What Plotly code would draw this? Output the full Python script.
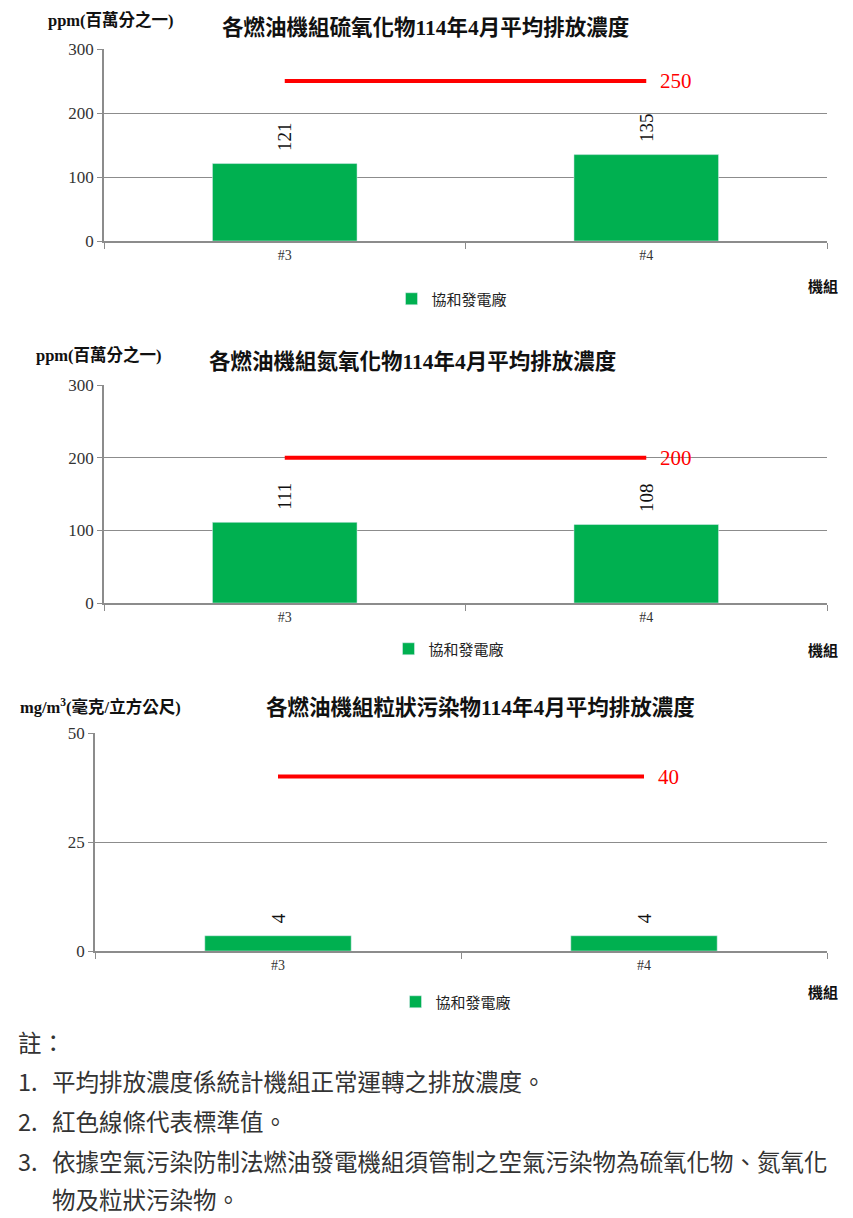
import plotly.graph_objects as go

units = ["#3", "#4"]
so2 = [121, 135]
nox = [111, 108]
pm = [3.5, 3.5]
limits = [250, 200, 40]

titles = ["各燃油機組硫氧化物114年4月平均排放濃度",
          "各燃油機組氮氧化物114年4月平均排放濃度",
          "各燃油機組粒狀污染物114年4月平均排放濃度"]
unit_labels = ["ppm(百萬分之一)", "ppm(百萬分之一)", "mg/m<sup>3</sup>(毫克/立方公尺)"]
plant = "協和發電廠"
note_head = "註："
note_nums = ["1.", "2.", "3.", ""]
note_lines = ["平均排放濃度係統計機組正常運轉之排放濃度。",
              "紅色線條代表標準值。",
              "依據空氣污染防制法燃油發電機組須管制之空氣污染物為硫氧化物、氮氧化",
              "物及粒狀污染物。"]

W, H = 853, 1218
OFF = 8  # page body margin
SERIF = "Liberation Serif, Noto Sans CJK TC"
GREEN = "#00B050"
GRID = "#8c8c8c"


def px_x(x):
    return (x - OFF) / W


def px_y(y):
    return 1 - (y - OFF) / H


# plot areas in page pixels: (left, right, top, bottom)
boxes = [(104, 827, 49, 241), (104, 827, 385, 603), (95, 827, 733, 951)]
yranges = [(0, 300, 100), (0, 300, 100), (0, 50, 25)]
series = [so2, nox, pm]
title_pos = [(425, 28), (412, 362), (480, 708)]
unit_pos = [(46, 20), (34, 355), (18, 706)]
legend_pos = [(452, 299), (449, 649), (456, 1002)]
axname_pos = [(840, 286), (840, 650), (840, 992)]

fig = go.Figure()
layout = dict(width=W, height=H, margin=dict(l=0, r=0, t=0, b=0, autoexpand=False),
              plot_bgcolor="white", paper_bgcolor="white",
              font=dict(family=SERIF, color="#222"),
              annotations=[])

for i in range(3):
    n = "" if i == 0 else str(i + 1)
    xa, ya = "x" + n, "y" + n
    lg = "legend" + n
    l, r, t, b = boxes[i]
    fig.add_trace(go.Bar(x=units, y=series[i], xaxis=xa, yaxis=ya, name=plant,
                         marker=dict(color=GREEN), width=0.4,
                         texttemplate="\u00a0\u00a0%{y:.0f}",
                         textposition="outside", textangle=-90,
                         textfont=dict(family=SERIF, size=19, color="#111"),
                         cliponaxis=False, legend=lg))
    fig.add_trace(go.Scatter(x=units, y=[limits[i], limits[i]], xaxis=xa, yaxis=ya,
                             mode="lines", line=dict(color="#FF0000", width=4),
                             showlegend=False, hoverinfo="skip"))
    layout["xaxis" + n] = dict(domain=[px_x(l), px_x(r)], anchor=ya, showline=True,
                              linecolor=GRID, linewidth=1.5, ticks="outside",
                              tickson="boundaries", ticklen=6, tickcolor=GRID,
                              tickfont=dict(family=SERIF, size=14, color="#333"),
                              showgrid=False, fixedrange=True)
    lo, hi, dt = yranges[i]
    layout["yaxis" + n] = dict(domain=[px_y(b), px_y(t)], anchor=xa, range=[lo, hi],
                              dtick=dt, showline=True, linecolor=GRID, linewidth=1.5,
                              ticks="outside", ticklen=5, tickcolor=GRID,
                              gridcolor=GRID, gridwidth=1.2, zeroline=False,
                              tickfont=dict(family=SERIF, size=17, color="#333"),
                              fixedrange=True)
    lx, ly = legend_pos[i]
    layout[lg] = dict(orientation="h", x=px_x(lx), xanchor="center",
                      y=px_y(ly), yanchor="middle",
                      font=dict(family=SERIF, size=15, color="#222"),
                      itemwidth=30, bgcolor="rgba(0,0,0,0)")
    # limit value label
    layout["annotations"].append(dict(x=units[1], y=limits[i], xref=xa, yref=ya,
                                      text=str(limits[i]), showarrow=False,
                                      xanchor="left", xshift=12,
                                      font=dict(family=SERIF, size=21, color="#FF0000")))
    tx, ty = title_pos[i]
    layout["annotations"].append(dict(x=px_x(tx), y=px_y(ty), xref="paper",
                                      yref="paper", text="<b>" + titles[i] + "</b>",
                                      showarrow=False, xanchor="center", yanchor="middle",
                                      font=dict(family=SERIF, size=21.5, color="#111")))
    ux, uy = unit_pos[i]
    layout["annotations"].append(dict(x=px_x(ux), y=px_y(uy), xref="paper",
                                      yref="paper", text="<b>" + unit_labels[i] + "</b>",
                                      showarrow=False, xanchor="left", yanchor="middle",
                                      font=dict(family=SERIF, size=16.5, color="#111")))
    ax_x, ax_y = axname_pos[i]
    layout["annotations"].append(dict(x=px_x(ax_x), y=px_y(ax_y), xref="paper",
                                      yref="paper", text="<b>機組</b>", showarrow=False,
                                      xanchor="right", yanchor="middle",
                                      font=dict(family=SERIF, size=15, color="#111")))

NOTE_FONT = dict(family="Noto Sans CJK TC", size=23.5, color="#333")
layout["annotations"].append(dict(x=px_x(16), y=px_y(1042), xref="paper", yref="paper",
                                  text=note_head, showarrow=False, xanchor="left",
                                  yanchor="middle", font=NOTE_FONT))
note_y = [1081, 1121, 1161, 1199]
for num, txt, yy in zip(note_nums, note_lines, note_y):
    if num:
        layout["annotations"].append(dict(x=px_x(16), y=px_y(yy), xref="paper",
                                          yref="paper", text=num, showarrow=False,
                                          xanchor="left", yanchor="middle",
                                          font=NOTE_FONT))
    layout["annotations"].append(dict(x=px_x(50), y=px_y(yy), xref="paper", yref="paper",
                                      text=txt, showarrow=False, xanchor="left",
                                      yanchor="middle", font=NOTE_FONT))

fig.update_layout(**layout)
fig.write_html("out.html")
